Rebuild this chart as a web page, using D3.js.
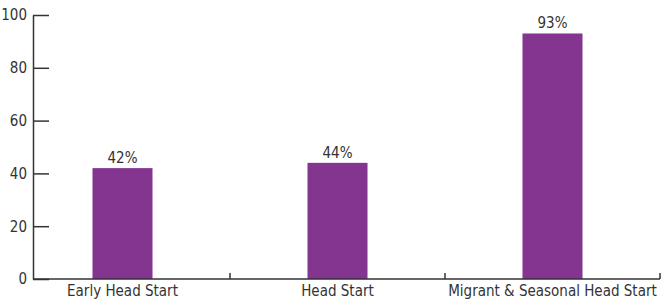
<!DOCTYPE html>
<html lang="en">
<head>
    <meta charset="UTF-8">
    <title>Head Start programs</title>
    <script src="https://d3js.org/d3.v7.min.js"></script>
    <style>
        body { margin: 0; background: #fff; }
        text { font-family: "Liberation Sans Narrow", "DejaVu Sans Condensed", "Roboto", sans-serif; fill: #333; }
        .bar { fill: #84358f; }
    </style>
</head>
<body>
    <svg width="664" height="301"></svg>
    <script>
        // data
        const categories = ["Early Head Start", "Head Start", "Migrant & Seasonal Head Start"];
        const values = [42, 44, 93];
        const yTicks = [0, 20, 40, 60, 80, 100];

        const svg = d3.select("svg");
        const axisColor = "#333";

        const x = d3.scaleBand()
            .domain(categories)
            .range([15, 660])
            .padding(0);

        const y = d3.scaleLinear()
            .domain([0, 100])
            .range([279, 15]);

        const barWidth = 60;

        // bars
        svg.selectAll(".bar")
            .data(values)
            .enter().append("rect")
            .attr("class", "bar")
            .attr("x", (d, i) => x(categories[i]) + x.bandwidth() / 2 - barWidth / 2)
            .attr("y", d => y(d))
            .attr("width", barWidth)
            .attr("height", d => y(0) - y(d));

        // value labels
        svg.selectAll(".val")
            .data(values)
            .enter().append("text")
            .attr("class", "val")
            .attr("x", (d, i) => x(categories[i]) + x.bandwidth() / 2)
            .attr("y", d => y(d) - 5)
            .attr("text-anchor", "middle")
            .attr("font-size", 15)
            .text(d => d + "%");

        // y axis
        const yAxis = svg.append("g")
            .attr("transform", "translate(33,0)")
            .call(d3.axisRight(y).tickValues(yTicks).tickSize(16).tickSizeOuter(0));
        yAxis.select(".domain").attr("stroke", axisColor).attr("stroke-width", 1.5);
        yAxis.selectAll(".tick line").attr("stroke", axisColor).attr("stroke-width", 1.5);
        yAxis.selectAll(".tick text")
            .attr("x", -6)
            .attr("text-anchor", "end")
            .attr("font-size", 15);

        // x axis line
        svg.append("line")
            .attr("x1", 33).attr("x2", x.range()[1])
            .attr("y1", y(0)).attr("y2", y(0))
            .attr("stroke", axisColor).attr("stroke-width", 1.5);

        // band separators (small upward ticks)
        const seps = categories.slice(1).map(c => x(c)).concat([x.range()[1]]);
        svg.selectAll(".sep")
            .data(seps)
            .enter().append("line")
            .attr("x1", d => d).attr("x2", d => d)
            .attr("y1", y(0)).attr("y2", y(0) - 6)
            .attr("stroke", axisColor).attr("stroke-width", 1.5);

        // category labels
        svg.selectAll(".cat")
            .data(categories)
            .enter().append("text")
            .attr("class", "cat")
            .attr("x", d => x(d) + x.bandwidth() / 2)
            .attr("y", 296)
            .attr("text-anchor", "middle")
            .attr("font-size", 15)
            .text(d => d);
    </script>
</body>
</html>
